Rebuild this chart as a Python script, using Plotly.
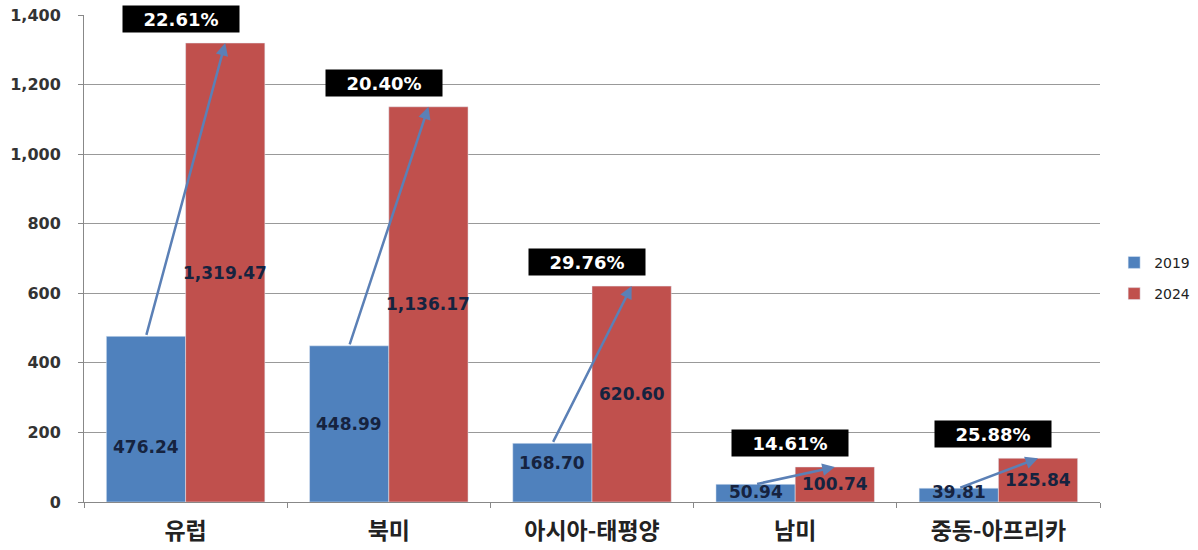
import plotly.graph_objects as go

# Market size by region (2019 vs 2024) with 5-year CAGR
regions = ["유럽", "북미", "아시아-태평양", "남미", "중동-아프리카"]
values_2019 = [476.24, 448.99, 168.70, 50.94, 39.81]
values_2024 = [1319.47, 1136.17, 620.60, 100.74, 125.84]
cagr = [22.61, 20.40, 29.76, 14.61, 25.88]

# vertical placement of the 2019 value labels, as a fraction of the bar height
label_frac_2019 = [0.33, 0.5, 0.66, 0.57, 0.73]

BLUE = "#4F81BD"
RED = "#C0504D"
ARROW = "#5B80B6"
LABEL = "#16233f"
BARGAP = 0.22
offset = (1 - BARGAP) / 4  # bar centre offset from category centre

fig = go.Figure()
fig.add_trace(go.Bar(x=regions, y=values_2019, name="2019", marker_color=BLUE,
                     legendgroup="a", hoverinfo="skip"))
fig.add_trace(go.Bar(x=regions, y=values_2024, name="2024", marker_color=RED,
                     legendgroup="b", hoverinfo="skip"))

annotations = []
label_font = dict(family="DejaVu Sans", size=17, color=LABEL, weight="bold")
for i, (v1, v2, g, f) in enumerate(zip(values_2019, values_2024, cagr, label_frac_2019)):
    # value labels
    annotations.append(dict(x=i - offset, y=v1 * f, xref="x", yref="y",
                            text=f"{v1:,.2f}", showarrow=False, font=label_font))
    annotations.append(dict(x=i + offset, y=v2 * 0.5, xref="x", yref="y",
                            text=f"{v2:,.2f}", showarrow=False, font=label_font))
    # growth arrow from the 2019 bar top to the 2024 bar top
    annotations.append(dict(x=i + offset, y=v2, xref="x", yref="y",
                            ax=i - offset, ay=v1, axref="x", ayref="y",
                            text="", showarrow=True, arrowhead=2, arrowsize=1,
                            arrowwidth=2.5, arrowcolor=ARROW, standoff=0))
    # CAGR box
    annotations.append(dict(x=i, y=v2, xref="x", yref="y", yanchor="bottom",
                            yshift=10, xshift=-5, text=f"{g:.2f}%", showarrow=False,
                            bgcolor="black", width=114, height=24,
                            font=dict(family="DejaVu Sans", size=18, color="white",
                                      weight="bold")))

fig.update_layout(
    width=1198, height=550,
    margin=dict(l=84, r=98, t=15, b=48, autoexpand=False),
    paper_bgcolor="white", plot_bgcolor="white",
    barmode="group", bargap=BARGAP, bargroupgap=0,
    annotations=annotations,
    showlegend=True,
    legend=dict(xref="container", yref="container", x=0.93, y=0.494,
                xanchor="left", yanchor="middle", tracegroupgap=10,
                font=dict(family="DejaVu Sans", size=14, color="#222")),
    xaxis=dict(showline=True, linecolor="#888", linewidth=1, automargin=False,
               ticks="outside", tickson="boundaries", ticklen=5, tickcolor="#888",
               ticklabelstandoff=8,
               tickfont=dict(family="Noto Sans CJK KR", size=23, color="#222",
                             weight="bold")),
    yaxis=dict(range=[0, 1400], dtick=200, tickformat=",", automargin=False,
               showgrid=True, gridcolor="#999", gridwidth=1,
               showline=True, linecolor="#888", linewidth=1,
               ticks="outside", ticklen=5, tickcolor="#888",
               ticklabelstandoff=14, zeroline=False,
               tickfont=dict(family="DejaVu Sans", size=16, color="#333",
                             weight="bold")),
)

fig.write_html("out.html")
